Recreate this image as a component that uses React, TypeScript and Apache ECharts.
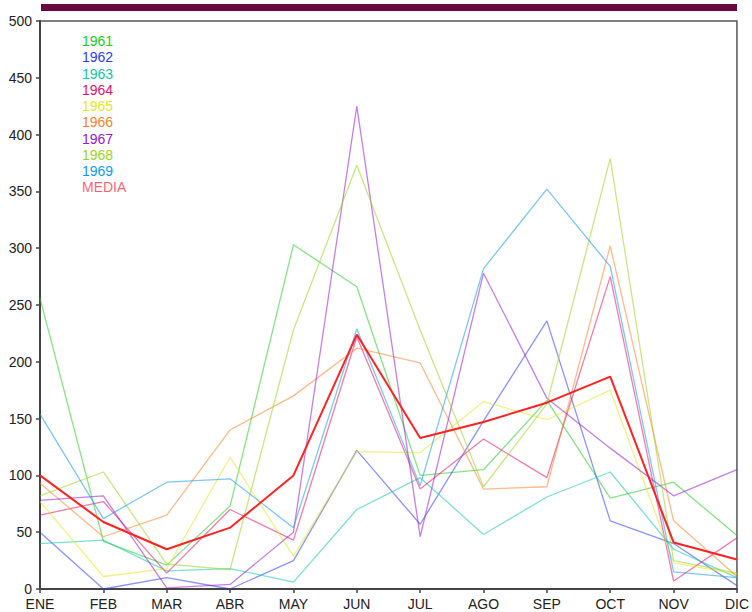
import React, { useEffect, useRef } from "react";
import * as echarts from "echarts";

const months = ["ENE", "FEB", "MAR", "ABR", "MAY", "JUN", "JUL", "AGO", "SEP", "OCT", "NOV", "DIC"];

const y1961 = [256, 42, 21, 73, 303, 266, 100, 105, 166, 80, 94, 47];
const y1962 = [50, 0, 10, 0, 25, 122, 57, 148, 236, 60, 40, 3];
const y1963 = [40, 43, 16, 18, 6, 70, 98, 48, 81, 103, 35, 10];
const y1964 = [65, 77, 14, 70, 43, 222, 88, 132, 98, 275, 7, 45];
const y1965 = [77, 11, 18, 116, 29, 121, 120, 165, 149, 175, 23, 13];
const y1966 = [93, 46, 65, 140, 170, 212, 199, 88, 90, 302, 60, 11];
const y1967 = [78, 82, 1, 4, 50, 425, 46, 278, 168, 124, 82, 105];
const y1968 = [82, 103, 22, 17, 228, 373, 228, 90, 163, 379, 25, 14];
const y1969 = [154, 62, 94, 97, 54, 229, 91, 282, 352, 284, 15, 10];
const media = [100, 59, 35, 54, 100, 224, 133, 147, 164, 187, 41, 26];

const seriesNames = ["1961", "1962", "1963", "1964", "1965", "1966", "1967", "1968", "1969", "MEDIA"];
const seriesData = [y1961, y1962, y1963, y1964, y1965, y1966, y1967, y1968, y1969, media];
const seriesColors = [
  "#22cc22",
  "#2a3cff",
  "#11c8a8",
  "#e8106a",
  "#e6e620",
  "#ff7f2a",
  "#9a16d0",
  "#9ad41e",
  "#1199ee",
  "#ff4455",
];

export default function App() {
  const ref = useRef<HTMLDivElement>(null);

  useEffect(() => {
    if (!ref.current) return;
    const chart = echarts.init(ref.current, undefined, { renderer: "svg" });

    const series: any[] = seriesNames.map((name, i) => {
      const isMedia = name === "MEDIA";
      return {
        name,
        type: "line",
        data: seriesData[i],
        symbol: "none",
        silent: true,
        z: isMedia ? 5 : 2,
        lineStyle: isMedia
          ? { color: "#ff2222", width: 2 }
          : { color: seriesColors[i], width: 1.3, opacity: 0.55 },
      };
    });

    const legendTexts = seriesNames.map((name, i) => ({
      type: "text",
      left: 82,
      top: 34 + i * 16.25,
      style: {
        text: name,
        fill: seriesColors[i],
        font: "14px 'Liberation Sans', Arial, sans-serif",
        opacity: name === "MEDIA" ? 0.85 : 1,
      },
    }));

    chart.setOption({
      animation: false,
      backgroundColor: "#ffffff",
      grid: {
        left: 40,
        right: 15,
        top: 21,
        bottom: 23,
        show: true,
        borderColor: "#555555",
        borderWidth: 1.5,
      },
      xAxis: {
        type: "category",
        data: months,
        boundaryGap: false,
        axisLine: { lineStyle: { color: "#444444", width: 2 } },
        axisTick: { show: true, alignWithLabel: true, length: 4, lineStyle: { color: "#444444", width: 1.5 } },
        axisLabel: {
          color: "#222222",
          fontSize: 14,
          lineHeight: 13,
          fontFamily: "'Liberation Sans', Arial, sans-serif",
          margin: 8,
          interval: 0,
        },
        splitLine: { show: false },
      },
      yAxis: {
        type: "value",
        min: 0,
        max: 500,
        interval: 50,
        axisLine: { show: true, lineStyle: { color: "#444444", width: 2 } },
        axisTick: { show: true, length: 4, lineStyle: { color: "#444444", width: 1.5 } },
        axisLabel: {
          color: "#222222",
          fontSize: 14,
          lineHeight: 12,
          fontFamily: "'Liberation Sans', Arial, sans-serif",
          margin: 8,
        },
        splitLine: { show: false },
      },
      graphic: [
        {
          type: "rect",
          left: 41,
          top: 4,
          shape: { width: 696, height: 7 },
          style: { fill: "#6b0a3c" },
        },
        ...legendTexts,
      ],
      series,
    });

    return () => chart.dispose();
  }, []);

  return (
    <div
      ref={ref}
      style={{ position: "fixed", left: 0, top: 0, width: 752, height: 612, background: "#fff" }}
    />
  );
}
